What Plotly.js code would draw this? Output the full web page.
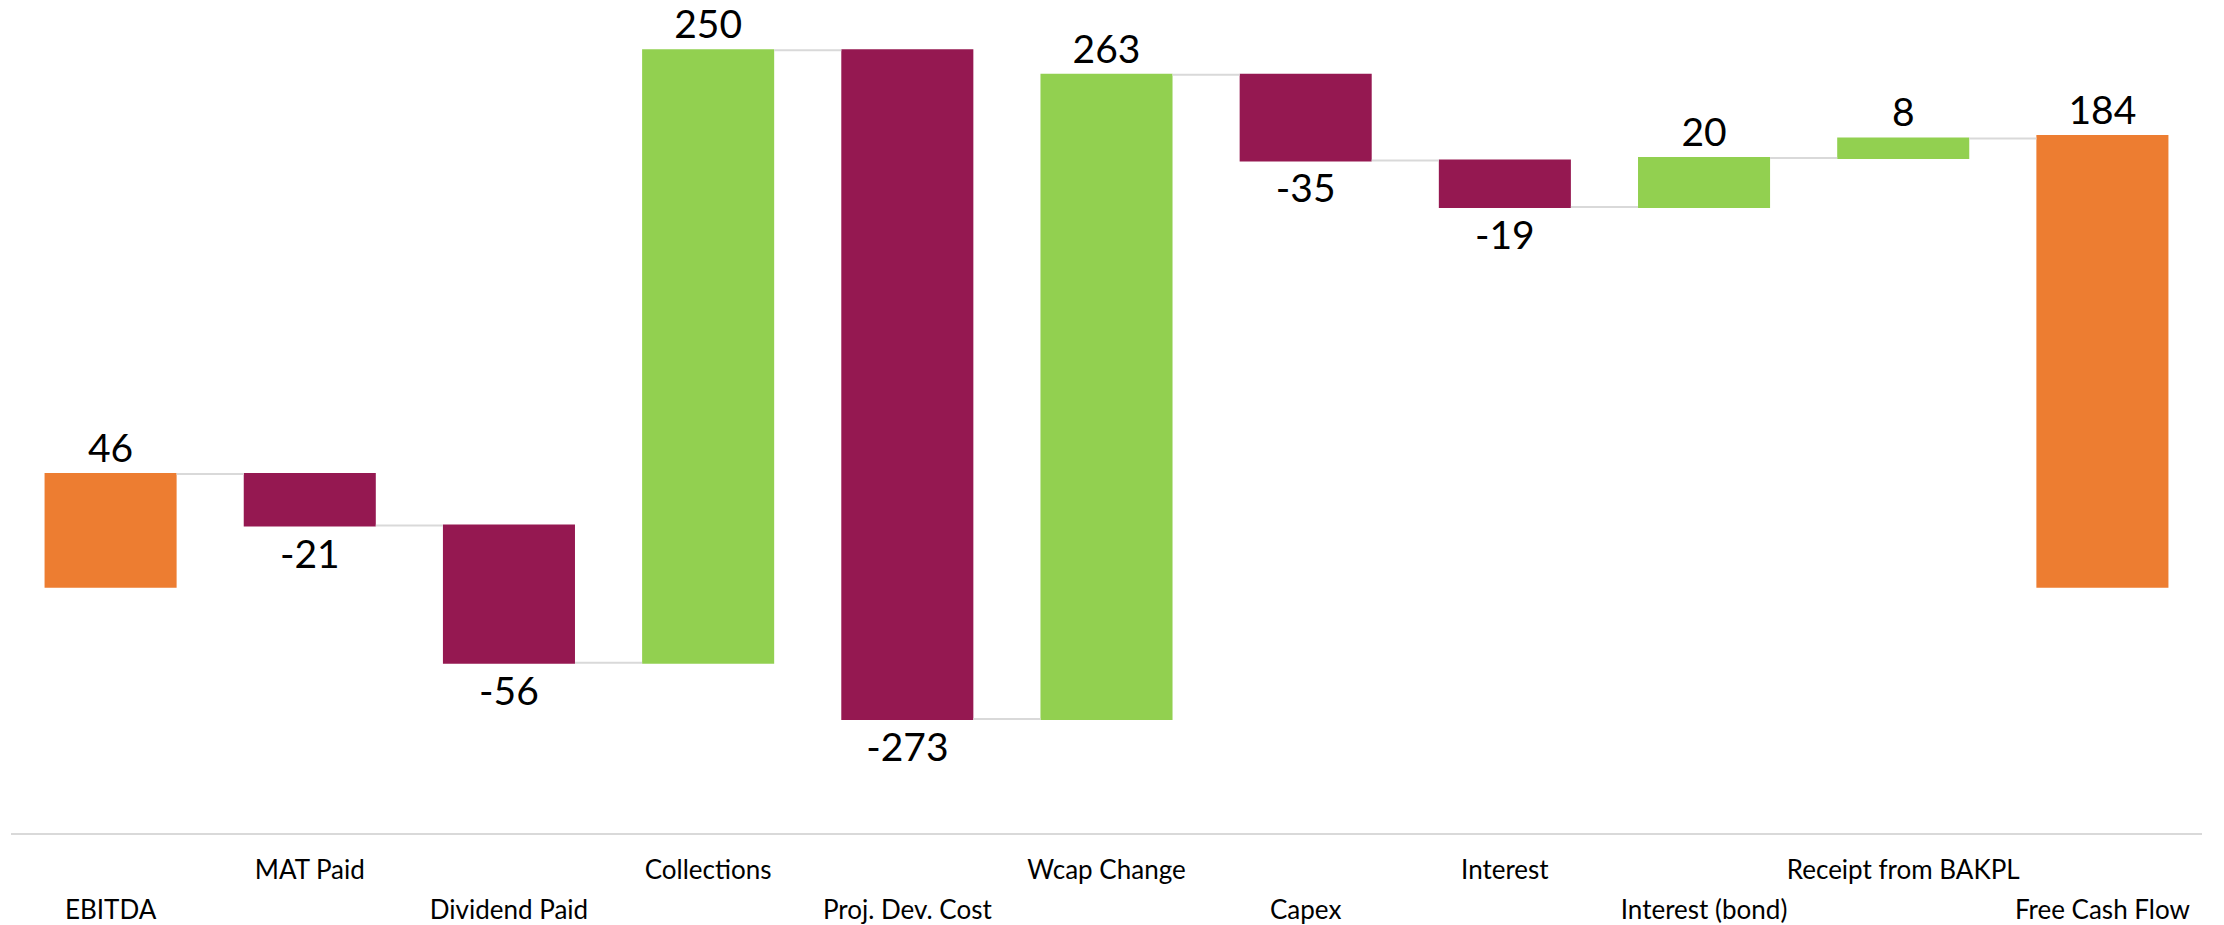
<!DOCTYPE html>
<html>
<head>
<meta charset="utf-8">
<script src="https://cdn.plot.ly/plotly-3.0.1.min.js"></script>
<style>
  html, body { margin: 0; padding: 0; background: #ffffff; }
  #chart { width: 2224px; height: 925px; }
</style>
</head>
<body>
<div id="chart"></div>
<script>
const categories = ["EBITDA", "MAT Paid", "Dividend Paid", "Collections", "Proj. Dev. Cost",
  "Wcap Change", "Capex", "Interest", "Interest (bond)", "Receipt from BAKPL", "Free Cash Flow"];
const values = [46, -21, -56, 250, -273, 263, -35, -19, 20, 8, 184];
const measures = ["absolute", "relative", "relative", "relative", "relative",
  "relative", "relative", "relative", "relative", "relative", "absolute"];
const valueLabels = ["46", "-21", "-56", "250", "-273", "263", "-35", "-19", "20", "8", "184"];

// staggered category labels (alternate rows like the original)
const upperCats = categories.filter((c, i) => i % 2 === 1);
const lowerIdx = categories.map((c, i) => i).filter(i => i % 2 === 0);
const lowerCats = lowerIdx.map(i => categories[i]);

const FONT = "Lato, 'Open Sans', sans-serif";

const trace = {
  type: "waterfall",
  x: categories,
  y: values,
  measure: measures,
  text: valueLabels,
  textposition: "outside",
  textfont: { family: FONT, size: 39, color: "#000000" },
  cliponaxis: false,
  increasing: { marker: { color: "#92D050" } },
  decreasing: { marker: { color: "#951851" } },
  totals: { marker: { color: "#ED7D31" } },
  connector: { mode: "between", line: { color: "#D9D9D9", width: 2 } },
  hoverinfo: "skip"
};

// empty helper trace so the second (label-only) x axis is drawn
const labelAxisTrace = {
  type: "scatter",
  x: [],
  y: [],
  xaxis: "x2",
  yaxis: "y",
  mode: "markers",
  hoverinfo: "skip",
  showlegend: false
};

const layout = {
  width: 2224,
  height: 925,
  margin: { l: 11, r: 22, t: 0, b: 92 },
  paper_bgcolor: "#ffffff",
  plot_bgcolor: "#ffffff",
  showlegend: false,
  waterfallgap: 0.337,
  font: { family: FONT, color: "#000000" },
  xaxis: {
    type: "category",
    tickmode: "array",
    tickvals: upperCats,
    ticktext: upperCats,
    ticks: "",
    showline: true,
    linecolor: "#D9D9D9",
    linewidth: 2,
    showgrid: false,
    zeroline: false,
    tickfont: { family: FONT, size: 26, color: "#000000" },
    ticklabelstandoff: 13,
    tickangle: 0,
    automargin: false
  },
  xaxis2: {
    overlaying: "x",
    anchor: "y",
    side: "bottom",
    type: "linear",
    range: [-0.5, categories.length - 0.5],
    autorange: false,
    tickmode: "array",
    tickvals: lowerIdx,
    ticktext: lowerCats,
    ticks: "",
    showline: false,
    showgrid: false,
    zeroline: false,
    tickfont: { family: FONT, size: 26, color: "#000000" },
    ticklabelstandoff: 59,
    tickangle: 0,
    automargin: false,
    fixedrange: true
  },
  yaxis: {
    range: [-100.5, 239.5],
    visible: false,
    showgrid: false,
    zeroline: false,
    fixedrange: true
  }
};

Plotly.newPlot("chart", [trace, labelAxisTrace], layout, { staticPlot: true, displayModeBar: false });
</script>
</body>
</html>
